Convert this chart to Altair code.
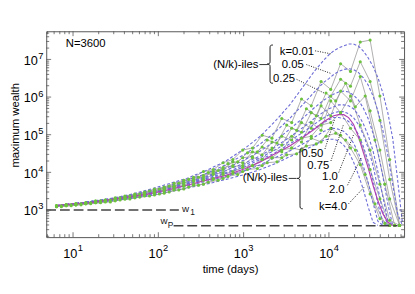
import altair as alt
import pandas as pd

W, H = 365, 210
X_DOMAIN = [4.85, 76000]
Y_DOMAIN = [190, 5.6e7]
FONT = "Liberation Sans"
FRAME = "#555555"

# ---------------- (N/k)-ile curves (dashed) ----------------
t_q = [6.4, 10, 15, 26, 44, 75, 127, 215, 366, 620, 1050, 1570, 2330, 3470, 5160,
       6730, 8770, 10000, 11400, 13000, 14900, 17000, 19400, 22100, 25200, 28800,
       32900, 37500, 42900, 49000, 55900, 63800, 72800]
q_001 = [1300, 1460, 1640, 1970, 2500, 3400, 4850, 6900, 11200, 20000, 44500, 91000,
         225000, 620000, 2.1e6, 4.8e6, 9.8e6, 1.33e7, 1.69e7, 2.02e7, 2.27e7, 2.56e7,
         2.56e7, 2.27e7, 1.69e7, 1.11e7, 6.5e6, 3.3e6, 1.28e6, 385000, 81000, 6500, 440]
q_005 = [1300, 1460, 1640, 1970, 2350, 3200, 4300, 6150, 9350, 16000, 31000, 57000,
         116000, 270000, 700000, 1.36e6, 2.5e6, 3.1e6, 4.0e6, 4.8e6, 5.4e6, 5.7e6,
         5.4e6, 4.5e6, 3.3e6, 2.1e6, 1.07e6, 430000, 131000, 29000, 4850, 800, 390]
q_025 = [1300, 1460, 1640, 1850, 2350, 3000, 4050, 5450, 7800, 12600, 22000, 37000,
         68000, 140000, 300000, 520000, 840000, 1.0e6, 1.2e6, 1.36e6, 1.44e6, 1.36e6,
         1.13e6, 840000, 520000, 270000, 109000, 35000, 7800, 1460, 390, None, None]
q_050 = [1300, 1460, 1640, 1850, 2200, 2800, 3800, 5150, 7400, 11200, 18000, 27500,
         47000, 86000, 166000, 270000, 410000, 490000, 550000, 620000, 620000, 585000,
         490000, 340000, 200000, 97000, 37000, 10500, 2200, 530, 390, None, None]
q_075 = [1300, 1460, 1640, 1850, 2200, 2800, 3600, 4850, 6900, 9900, 16000, 24500,
         39000, 68000, 123000, 190000, 285000, 340000, 385000, 410000, 410000, 360000,
         285000, 190000, 103000, 44500, 15000, 3800, 900, 390, None, None, None]
q_100 = [1300, 1460, 1550, 1850, 2200, 2650, 3600, 4850, 6500, 9350, 14300, 22000,
         33000, 57000, 97000, 148000, 210000, 250000, 285000, 285000, 270000, 225000,
         166000, 103000, 50000, 20000, 6150, 1460, 440, 390, None, None, None]
q_200 = [1300, 1460, 1550, 1750, 2100, 2500, 3200, 4300, 5800, 7800, 11200, 16000,
         24500, 37000, 60000, 86000, 123000, 140000, 148000, 140000, 123000, 91000,
         60000, 33000, 15000, 5450, 1550, 500, 390, None, None, None, None]
q_400 = [1300, 1460, 1550, 1750, 1970, 2350, 3000, 3800, 4850, 6500, 8800, 11900,
         17000, 26000, 39000, 53000, 72000, 76000, 76000, 68000, 53000, 35000, 19000,
         8800, 3600, 1220, 470, 390, None, None, None, None, None]
mean_line = [1300, 1460, 1550, 1850, 2200, 2650, 3400, 4550, 6150, 8300, 12600, 19000,
             31000, 50000, 91000, 140000, 225000, 270000, 320000, 340000, 340000, 285000,
             190000, 91000, 35000, 13400, 4550, 1750, 800, 470, 390, None, None]

# ---------------- simulated runs (grey lines, green dots) ----------------
t_g = [6.4, 8.3, 10.8, 14.1, 18.4, 23.9, 31.2, 40.6, 53, 69, 90, 117, 153, 199, 259,
       338, 440, 574, 748, 975, 1270, 1650, 2150, 2800, 3660, 4770, 6210, 8090, 10500,
       13700, 17900, 23300, 30400, 39600, 51600, 67300]
run_a = [1300, 1370, 1460, 1550, 1750, 1850, 2100, 2350, 2650, 3000, 3600, 4050, 5150,
         6150, 7400, 10500, 11900, 18000, 22000, 39000, 44500, 97000, 81000, 270000,
         210000, 890000, 585000, 2.6e6, 1.6e6, 7.7e6, 4.8e6, 2.89e7, 3.26e7, 1.07e6,
         22000, 390]
run_b = [1300, 1370, 1460, 1550, 1640, 1850, 1970, 2200, 2500, 2800, 3200, 3800, 4300,
         5450, 6150, 8300, 9350, 13400, 15100, 24500, 26000, 47000, 39000, 91000, 72000,
         210000, 148000, 585000, 320000, 1.44e6, 790000, 3.5e6, 430000, 39000, 1970, 390]
run_c = [1300, 1370, 1370, 1550, 1640, 1750, 1970, 2100, 2350, 2650, 3000, 3400, 4050,
         4550, 5800, 6500, 8800, 9900, 14300, 15100, 24500, 22000, 44500, 35000, 91000,
         64000, 210000, 131000, 790000, 385000, 1.07e6, 180000, 39000, 4850, 530, 390]
run_d = [1220, 1300, 1370, 1460, 1550, 1750, 1850, 1970, 2200, 2500, 2800, 3200, 3600,
         4300, 4850, 6150, 6900, 8800, 10500, 13400, 15100, 22000, 24500, 39000, 44500,
         81000, 91000, 180000, 210000, 385000, 148000, 72000, 11900, 1970, 390, None]
run_e = [1220, 1300, 1370, 1460, 1550, 1640, 1750, 1970, 2100, 2350, 2500, 2800, 3400,
         3600, 4550, 4850, 6500, 6900, 9350, 10500, 15100, 15100, 24500, 24500, 44500,
         39000, 81000, 64000, 148000, 97000, 44500, 16000, 2650, 590, 390, None]
run_f = [1300, 1370, 1460, 1460, 1640, 1750, 1970, 2100, 2500, 2650, 3200, 3600, 4300,
         5150, 6500, 7400, 10500, 11900, 19000, 18000, 35000, 29200, 64000, 53000,
         148000, 116000, 385000, 270000, 1.07e6, 2.96e6, 1.95e6, 8.7e6, 2.6e6, 240000,
         6500, 390]
t_g2 = [7.3, 9.5, 12.4, 16.1, 21, 27.4, 35.6, 46.4, 60.5, 78.8, 103, 134, 174, 227, 296,
        385, 502, 655, 853, 1110, 1450, 1890, 2460, 3200, 4180, 5440, 7100, 9250, 12000,
        15700, 20400, 26600, 34700, 45200, 58900]
run_g = [1300, 1370, 1460, 1550, 1750, 1850, 2100, 2350, 2650, 3200, 3600, 4300, 5150,
         6500, 7400, 9900, 11200, 17000, 19000, 33000, 35000, 72000, 60000, 180000,
         131000, 490000, 320000, 1.28e6, 790000, 2.33e6, 550000, 1.07e6, 72000, 4850, 390]
run_h = [1220, 1300, 1370, 1460, 1550, 1640, 1850, 1970, 2200, 2350, 2650, 3000, 3400,
         4050, 4550, 5450, 6150, 7800, 8800, 11900, 12600, 18000, 19000, 29200, 31000,
         50000, 57000, 91000, 109000, 72000, 39000, 8800, 1460, 440, 390]

# ---------------- reference levels ----------------
w1_level = 1000
w1_t = [4.85, 174]
wp_level = 380
wp_t = [151, 63800]

# ---------------- annotations (data coordinates) ----------------
up_labels = ["k=0.01", "0.05", "0.25"]
up_t = [2660, 2800, 2210]
up_w = [1.33e7, 6.08e6, 2.5e6]
low_labels = ["0.50", "0.75", "1.0", "2.0", "k=4.0"]
low_t = [4760, 5580, 8320, 10000, 7670]
low_w = [26000, 12600, 6150, 2800, 1020]
iles_t = [1490, 3290]
iles_w = [6.08e6, 5800]
lead_t1 = [6900, 5440, 4180, 8990, 10540, 13030, 16520, 16980]
lead_w1 = [1.69e7, 7.3e6, 2.96e6, 42000, 20000, 9900, 4550, 1460]
lead_t2 = [10540, 10540, 8770, 11730, 14860, 19360, 23950, 25920]
lead_w2 = [1.41e7, 4.24e6, 1.28e6, 270000, 190000, 97000, 24500, 4050]
dash_t1 = [1530, 3380]
dash_t2 = [1890, 4180]
dash_w = [7.3e6, 6900]
brace_t = [2040, 4580]
brace_w = [7.5e6, 6900]

# ---------------- ticks ----------------
x_major = [10, 100, 1000, 10000]
x_exp = ["1", "2", "3", "4"]
x_minor = [5, 6, 7, 8, 9, 20, 30, 40, 50, 60, 70, 80, 90, 200, 300, 400, 500, 600, 700,
           800, 900, 2000, 3000, 4000, 5000, 6000, 7000, 8000, 9000, 20000, 30000,
           40000, 50000, 60000, 70000]
y_major = [1e3, 1e4, 1e5, 1e6, 1e7]
y_exp = ["3", "4", "5", "6", "7"]
y_minor = [200, 300, 400, 500, 600, 700, 800, 900, 2000, 3000, 4000, 5000, 6000, 7000,
           8000, 9000, 2e4, 3e4, 4e4, 5e4, 6e4, 7e4, 8e4, 9e4, 2e5, 3e5, 4e5, 5e5, 6e5,
           7e5, 8e5, 9e5, 2e6, 3e6, 4e6, 5e6, 6e6, 7e6, 8e6, 9e6, 2e7, 3e7, 4e7, 5e7]

# ---------------- build tables ----------------
def long(tlist, series):
    rows = []
    for name, vals in series.items():
        for t, w in zip(tlist, vals):
            if w is not None:
                rows.append({"t": t, "w": w, "s": name})
    return pd.DataFrame(rows)

q_df = long(t_q, {"0.01": q_001, "0.05": q_005, "0.25": q_025, "0.50": q_050,
                  "0.75": q_075, "1.0": q_100, "2.0": q_200, "4.0": q_400})
mean_df = long(t_q, {"mean": mean_line})
runs_df = pd.concat([
    long(t_g, {"a": run_a, "b": run_b, "c": run_c, "d": run_d, "e": run_e, "f": run_f}),
    long(t_g2, {"g": run_g, "h": run_h}),
])
lvl_df = pd.DataFrame({
    "t": w1_t + wp_t,
    "w": [w1_level, w1_level, wp_level, wp_level],
    "s": ["w1", "w1", "wP", "wP"],
})

xs = alt.Scale(type="log", domain=X_DOMAIN, nice=False)
ys = alt.Scale(type="log", domain=Y_DOMAIN, nice=False)


def X(f="t"):
    return alt.X(f"{f}:Q", scale=xs, axis=None)


def Y(f="w"):
    return alt.Y(f"{f}:Q", scale=ys, axis=None)


layers = []
layers.append(alt.Chart(runs_df).mark_line(color="#9a9a9a", strokeWidth=0.8).encode(
    x=X(), y=Y(), detail="s:N", order="t:Q"))
layers.append(alt.Chart(q_df).mark_line(color="#6b6bd6", strokeWidth=1.1,
                                         strokeDash=[3, 2]).encode(
    x=X(), y=Y(), detail="s:N", order="t:Q"))
layers.append(alt.Chart(mean_df).mark_line(color="#b040b0", strokeWidth=1.2).encode(
    x=X(), y=Y(), order="t:Q"))
layers.append(alt.Chart(runs_df).mark_circle(size=10, color="#6cc23d", opacity=1).encode(
    x=X(), y=Y()))
layers.append(alt.Chart(lvl_df).mark_line(color="#444444", strokeWidth=1.4,
                                           strokeDash=[10, 4]).encode(
    x=X(), y=Y(), detail="s:N"))

# level labels
lvl_text = pd.DataFrame({"t": [189, 106], "w": [900, 414], "txt": ["w", "w"]})
lvl_sub = pd.DataFrame({"t": [237, 129], "w": [730, 340], "txt": ["1", "P"]})
layers.append(alt.Chart(lvl_text).mark_text(align="left", baseline="alphabetic",
                                             fontSize=10, font=FONT, color="#222").encode(
    x=X(), y=Y(), text="txt:N"))
layers.append(alt.Chart(lvl_sub).mark_text(align="left", baseline="alphabetic",
                                            fontSize=8.5, font=FONT, color="#222").encode(
    x=X(), y=Y(), text="txt:N"))

# annotation labels
ann_df = pd.DataFrame({"t": up_t + low_t, "w": up_w + low_w, "txt": up_labels + low_labels})
layers.append(alt.Chart(ann_df).mark_text(align="left", baseline="alphabetic",
                                           fontSize=11.5, font=FONT, color="black").encode(
    x=X(), y=Y(), text="txt:N"))
iles_df = pd.DataFrame({"t": iles_t, "w": iles_w, "txt": ["(N/k)-iles", "(N/k)-iles"]})
layers.append(alt.Chart(iles_df).mark_text(align="right", baseline="alphabetic",
                                            fontSize=11.5, font=FONT, color="black").encode(
    x=X(), y=Y(), text="txt:N"))
lead_df = pd.DataFrame({"t": lead_t1, "t2": lead_t2, "w": lead_w1, "w2": lead_w2})
layers.append(alt.Chart(lead_df).mark_rule(color="black", strokeWidth=0.9,
                                            strokeDash=[1, 1.5]).encode(
    x=X(), x2="t2:Q", y=Y(), y2="w2:Q"))
dash_df = pd.DataFrame({"t": dash_t1, "t2": dash_t2, "w": dash_w})
layers.append(alt.Chart(dash_df).mark_rule(color="black", strokeWidth=0.8).encode(
    x=X(), x2="t2:Q", y=Y()))

brace_up = ("M 0.15 -1 C 0.02 -1 0 -0.96 0 -0.85 L 0 -0.12 C 0 -0.03 -0.06 0 -0.15 0 "
            "C -0.06 0 0 0.03 0 0.12 L 0 0.85 C 0 0.96 0.02 1 0.15 1")
brace_low = ("M 0.09 -1 C 0.015 -1 0 -0.97 0 -0.9 L 0 -0.08 C 0 -0.02 -0.04 0 -0.09 0 "
             "C -0.04 0 0 0.02 0 0.08 L 0 0.9 C 0 0.97 0.015 1 0.09 1")
layers.append(alt.Chart(pd.DataFrame({"t": brace_t[:1], "w": brace_w[:1]})).mark_point(
    shape=brace_up, size=1521, filled=False, color="black", strokeWidth=0.9, opacity=1
).encode(x=X(), y=Y()))
layers.append(alt.Chart(pd.DataFrame({"t": brace_t[1:], "w": brace_w[1:]})).mark_point(
    shape=brace_low, size=3844, filled=False, color="black", strokeWidth=0.9, opacity=1
).encode(x=X(), y=Y()))

# ticks (inward, all four sides)
def xticks(vals, length):
    d = pd.DataFrame({"v": vals})
    b = alt.Chart(d).mark_rule(color=FRAME, strokeWidth=0.8).encode(
        x=X("v"), y=alt.value(H), y2=alt.value(H - length))
    t = alt.Chart(d).mark_rule(color=FRAME, strokeWidth=0.8).encode(
        x=X("v"), y=alt.value(0), y2=alt.value(length))
    return [b, t]


def yticks(vals, length):
    d = pd.DataFrame({"v": vals})
    l = alt.Chart(d).mark_rule(color=FRAME, strokeWidth=0.8).encode(
        y=Y("v"), x=alt.value(0), x2=alt.value(length))
    r = alt.Chart(d).mark_rule(color=FRAME, strokeWidth=0.8).encode(
        y=Y("v"), x=alt.value(W), x2=alt.value(W - length))
    return [l, r]


layers += xticks(x_major, 5) + xticks(x_minor, 3) + yticks(y_major, 5) + yticks(y_minor, 3)

# tick labels with superscripts
xl = pd.DataFrame({"v": x_major, "base": ["10"] * 4, "exp": x_exp})
layers.append(alt.Chart(xl).mark_text(align="right", baseline="alphabetic", dx=4.5,
                                       fontSize=13, font=FONT, color="black").encode(
    x=X("v"), y=alt.value(231), text="base:N"))
layers.append(alt.Chart(xl).mark_text(align="left", baseline="alphabetic", dx=4.8,
                                       fontSize=9.5, font=FONT, color="black").encode(
    x=X("v"), y=alt.value(224), text="exp:N"))
yl = pd.DataFrame({"v": y_major, "base": ["10"] * 5, "exp": y_exp})
layers.append(alt.Chart(yl).mark_text(align="right", baseline="alphabetic", dy=5.5,
                                       fontSize=13, font=FONT, color="black").encode(
    x=alt.value(-8.5), y=Y("v"), text="base:N"))
layers.append(alt.Chart(yl).mark_text(align="left", baseline="alphabetic", dy=-0.5,
                                       fontSize=9.5, font=FONT, color="black").encode(
    x=alt.value(-8.2), y=Y("v"), text="exp:N"))

# titles
layers.append(alt.Chart(pd.DataFrame({"txt": ["time (days)"]})).mark_text(
    align="center", baseline="alphabetic", fontSize=11.5, font=FONT, color="black"
).encode(x=alt.value(188), y=alt.value(247), text="txt:N"))
layers.append(alt.Chart(pd.DataFrame({"txt": ["maximum wealth"]})).mark_text(
    align="center", baseline="alphabetic", fontSize=11.5, font=FONT, color="black",
    angle=270).encode(x=alt.value(-28), y=alt.value(96), text="txt:N"))
layers.append(alt.Chart(pd.DataFrame({"txt": ["N=3600"]})).mark_text(
    align="left", baseline="alphabetic", fontSize=11.5, font=FONT, color="black"
).encode(x=alt.value(20), y=alt.value(16), text="txt:N"))

chart = alt.layer(*layers).properties(
    width=W, height=H,
    padding={"left": 39, "top": 21, "right": 3, "bottom": 41},
    autosize=alt.AutoSizeParams(type="none"),
).configure_view(stroke=FRAME, strokeWidth=1)

chart.save("out.html", embed_options={"renderer": "svg", "actions": False})
